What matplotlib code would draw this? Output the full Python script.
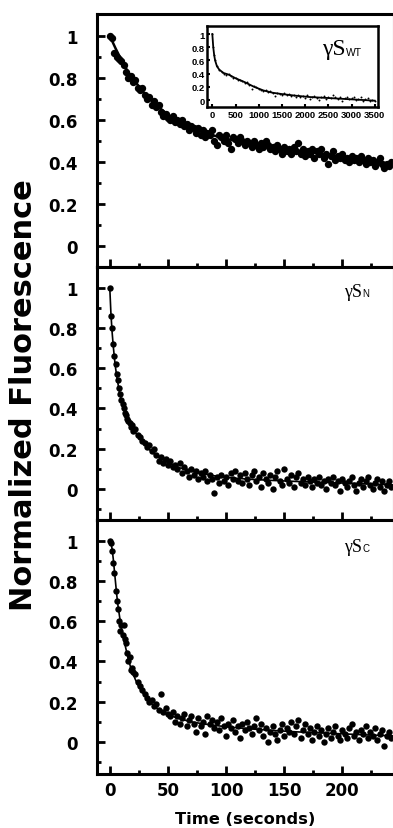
import numpy as np
import matplotlib.pyplot as plt

# sampling grids (seconds)
t_wt = np.arange(0, 243, 2)
t_nc = np.concatenate([np.arange(0, 20), np.arange(20, 243, 2)])
t_in = np.concatenate([[0, 20, 40, 60, 100, 150, 200, 250], np.arange(300, 3501, 50)])

# gammaS WT (top panel)
wt_y = [1.00, 0.99, 0.92, 0.90, 0.89, 0.88, 0.86, 0.83, 0.80, 0.81,
        0.78, 0.79, 0.75, 0.74, 0.75, 0.72, 0.70, 0.71, 0.67, 0.69,
        0.66, 0.67, 0.64, 0.62, 0.63, 0.61, 0.60, 0.62, 0.59, 0.60,
        0.58, 0.60, 0.57, 0.58, 0.55, 0.57, 0.56, 0.54, 0.56, 0.53,
        0.55, 0.52, 0.54, 0.53, 0.55, 0.50, 0.48, 0.53, 0.52, 0.50,
        0.53, 0.49, 0.46, 0.52, 0.51, 0.49, 0.52, 0.50, 0.48, 0.50,
        0.49, 0.47, 0.50, 0.48, 0.46, 0.49, 0.47, 0.50, 0.48, 0.46,
        0.47, 0.45, 0.48, 0.46, 0.44, 0.47, 0.45, 0.46, 0.44, 0.47,
        0.45, 0.49, 0.44, 0.46, 0.43, 0.45, 0.44, 0.46, 0.42, 0.45,
        0.44, 0.46, 0.42, 0.44, 0.39, 0.43, 0.45, 0.41, 0.43, 0.42,
        0.44, 0.41, 0.42, 0.40, 0.43, 0.41, 0.42, 0.40, 0.43, 0.41,
        0.39, 0.42, 0.40, 0.41, 0.38, 0.40, 0.42, 0.39, 0.37, 0.39,
        0.38, 0.40]
wt_fit_t = [0, 5, 10, 15, 20, 25, 30, 35, 40, 50, 60, 70, 80, 90, 100, 120,
            140, 160, 180, 200, 220, 243]
wt_fit_y = [1.0, 0.94, 0.885, 0.835, 0.795, 0.76, 0.725, 0.695, 0.67, 0.625,
            0.59, 0.565, 0.545, 0.525, 0.51, 0.49, 0.47, 0.455, 0.44, 0.425,
            0.41, 0.39]

# gammaS N (middle panel)
n_y = [1.00, 0.86, 0.80, 0.72, 0.66, 0.62, 0.57, 0.54, 0.50, 0.47,
       0.44, 0.42, 0.40, 0.38, 0.37, 0.35, 0.34, 0.33, 0.31, 0.32,
       0.29, 0.30, 0.27, 0.26, 0.24, 0.23, 0.21, 0.22, 0.19, 0.20,
       0.17, 0.14, 0.16, 0.13, 0.15, 0.12, 0.14, 0.11, 0.12, 0.10,
       0.13, 0.08, 0.11, 0.09, 0.06, 0.10, 0.07, 0.09, 0.05, 0.08,
       0.06, 0.09, 0.04, 0.07, 0.05, -0.02, 0.06, 0.03, 0.07, 0.04,
       0.06, 0.02, 0.08, 0.05, 0.09, 0.04, 0.07, 0.03, 0.08, 0.05,
       0.02, 0.07, 0.09, 0.04, 0.06, 0.01, 0.08, 0.05, 0.03, 0.07,
       0.00, 0.06, 0.09, 0.04, 0.02, 0.10, 0.05, 0.03, 0.07, 0.01,
       0.06, 0.08, 0.03, 0.05, 0.02, 0.06, 0.04, 0.01, 0.05, 0.03,
       0.06, 0.02, 0.04, 0.00, 0.05, 0.03, 0.06, 0.02, 0.04, -0.01,
       0.05, 0.03, 0.01, 0.04, 0.06, 0.02, -0.01, 0.03, 0.05, 0.01,
       0.04, 0.06, 0.02, 0.00, 0.03, 0.05, 0.01, 0.04, -0.01, 0.02,
       0.04, 0.01]
n_fit_t = [0, 1, 2, 3, 4, 5, 6, 8, 10, 12, 14, 16, 18, 20, 25, 30, 35, 40, 50,
           60, 70, 80, 90, 100, 120, 140, 160, 180, 200, 220, 243]
n_fit_y = [1.0, 0.87, 0.78, 0.71, 0.65, 0.60, 0.56, 0.49, 0.44, 0.40, 0.37,
           0.345, 0.32, 0.30, 0.255, 0.22, 0.19, 0.165, 0.13, 0.105, 0.088,
           0.075, 0.065, 0.057, 0.048, 0.042, 0.037, 0.033, 0.029, 0.025, 0.02]

# gammaS C (bottom panel)
c_y = [1.00, 0.99, 0.95, 0.89, 0.84, 0.75, 0.70, 0.66, 0.60, 0.55,
       0.58, 0.53, 0.58, 0.51, 0.49, 0.44, 0.40, 0.42, 0.36, 0.37,
       0.35, 0.34, 0.30, 0.28, 0.26, 0.24, 0.22, 0.20, 0.21, 0.18,
       0.19, 0.16, 0.24, 0.15, 0.17, 0.14, 0.13, 0.15, 0.10, 0.13,
       0.09, 0.12, 0.14, 0.08, 0.11, 0.13, 0.09, 0.05, 0.12, 0.08,
       0.10, 0.04, 0.13, 0.09, 0.11, 0.07, 0.10, 0.06, 0.12, 0.08,
       0.03, 0.09, 0.07, 0.11, 0.05, 0.08, 0.02, 0.09, 0.06, 0.10,
       0.07, 0.04, 0.08, 0.12, 0.06, 0.09, 0.03, 0.07, 0.00, 0.05,
       0.08, 0.04, 0.01, 0.06, 0.09, 0.03, 0.07, 0.05, 0.10, 0.04,
       0.08, 0.11, 0.02, 0.06, 0.09, 0.04, 0.07, 0.01, 0.05, 0.08,
       0.03, 0.06, 0.00, 0.04, 0.07, 0.02, 0.05, 0.08, 0.03, 0.01,
       0.06, 0.04, 0.02, 0.07, 0.09, 0.03, 0.05, 0.01, 0.06, 0.04,
       0.08, 0.02, 0.05, 0.03, 0.07, 0.01, 0.04, 0.06, -0.02, 0.03,
       0.05, 0.02]
c_fit_t = [0, 1, 2, 3, 4, 5, 6, 7, 8, 9, 10, 12, 14, 16, 18, 20, 22, 25, 30,
           35, 40, 45, 50, 60, 70, 80, 100, 120, 140, 160, 180, 200, 220, 243]
c_fit_y = [1.0, 0.99, 0.96, 0.91, 0.85, 0.79, 0.73, 0.68, 0.64, 0.60, 0.565,
           0.51, 0.46, 0.41, 0.37, 0.34, 0.31, 0.275, 0.23, 0.195, 0.17, 0.15,
           0.135, 0.115, 0.10, 0.09, 0.075, 0.065, 0.057, 0.05, 0.045, 0.04,
           0.035, 0.03]

# inset, gammaS WT over the long run
in_y = [1.00, 0.80, 0.68, 0.60, 0.52, 0.46, 0.42, 0.40,
        0.38, 0.39, 0.36, 0.34, 0.33, 0.31, 0.30, 0.29, 0.26, 0.28,
        0.23, 0.16, 0.21, 0.19, 0.17, 0.15, 0.13, 0.15, 0.12, 0.13,
        0.10, 0.06, 0.11, 0.09, 0.08, 0.10, 0.07, 0.09, 0.06, 0.08,
        0.05, 0.07, 0.04, 0.06, 0.03, 0.07, 0.02, 0.05, 0.06, 0.03,
        0.00, 0.04, 0.06, 0.02, 0.05, 0.03, 0.07, 0.04, 0.02, 0.05,
        -0.01, 0.03, 0.04, 0.01, 0.03, 0.05, 0.00, 0.02, 0.04, -0.02,
        0.01, 0.03, -0.01, 0.00, -0.02]
in_fit_t = [0, 10, 20, 40, 60, 100, 150, 240, 350, 500, 700, 900, 1100, 1300,
            1500, 1800, 2100, 2500, 3000, 3500]
in_fit_y = [1.0, 0.9, 0.8, 0.68, 0.6, 0.51, 0.46, 0.41, 0.385, 0.33, 0.27,
            0.20, 0.145, 0.11, 0.09, 0.065, 0.045, 0.03, 0.01, -0.01]

ytick_vals = [0, 0.2, 0.4, 0.6, 0.8, 1]
ytick_lab = ['0', '0.2', '0.4', '0.6', '0.8', '1']
xtick_vals = [0, 50, 100, 150, 200]


def style(ax, ylow):
    ax.set_xlim(-11, 243.5)
    ax.set_ylim(ylow, 1.104)
    ax.set_yticks(ytick_vals)
    ax.set_yticklabels(ytick_lab)
    ax.set_yticks(np.arange(-0.1, 1.05, 0.2), minor=True)
    ax.set_xticks(xtick_vals)
    ax.set_xticks([25, 75, 125, 175, 225], minor=True)
    ax.tick_params(which='both', direction='in', width=2, colors='k',
                   labelsize=12, top=False, right=False)
    ax.tick_params(which='major', length=6)
    ax.tick_params(which='minor', length=3)
    ax.tick_params(axis='y', pad=14)
    ax.tick_params(axis='x', pad=5)
    for s in ['left', 'top', 'bottom']:
        ax.spines[s].set_linewidth(2.2)
    ax.spines['right'].set_linewidth(0.8)
    ax.spines['right'].set_color('#999999')
    for lab in ax.get_xticklabels() + ax.get_yticklabels():
        lab.set_fontweight('bold')


def tag(ax, sub, x, y, size=13, subsize=7):
    t = ax.text(x, y, 'γS', transform=ax.transAxes, fontsize=size,
                family='Liberation Serif', ha='left', va='center')
    ax.annotate(sub, xy=(1.0, 0.12), xycoords=t, fontsize=subsize,
                family='Liberation Sans', ha='left', va='bottom')


fig = plt.figure(figsize=(3.93, 8.29), dpi=100)
ax1 = fig.add_axes([0.2468, 0.6767, 0.7532, 0.3052])
ax2 = fig.add_axes([0.2468, 0.3715, 0.7532, 0.3052])
ax3 = fig.add_axes([0.2468, 0.0651, 0.7532, 0.3064])

ax1.plot(t_wt, wt_y, 'o', color='k', ms=5.3, mew=0)
ax1.plot(wt_fit_t, wt_fit_y, '-', color='k', lw=1.8)
style(ax1, -0.095)
ax1.tick_params(axis='x', labelbottom=False)

ax2.plot(t_nc, n_y, 'o', color='k', ms=4.6, mew=0)
ax2.plot(n_fit_t, n_fit_y, '-', color='k', lw=1.2)
style(ax2, -0.155)
ax2.tick_params(axis='x', labelbottom=False)
tag(ax2, 'N', 0.835, 0.905)

ax3.plot(t_nc, c_y, 'o', color='k', ms=4.6, mew=0)
ax3.plot(c_fit_t, c_fit_y, '-', color='k', lw=1.2)
style(ax3, -0.16)
ax3.set_xlabel('Time (seconds)', fontsize=11.7, fontweight='bold', labelpad=9)
tag(ax3, 'C', 0.835, 0.895)

fig.text(0.06, 0.523, 'Normalized Fluorescence', rotation=90, fontsize=22,
         fontweight='bold', ha='center', va='center')

# inset
axi = fig.add_axes([0.5275, 0.8694, 0.4351, 0.0984])
axi.plot(t_in, in_y, 'o', color='k', ms=1.4, mew=0)
axi.plot(in_fit_t, in_fit_y, '-', color='k', lw=1.3)
axi.set_xlim(-108, 3577)
axi.set_ylim(-0.11, 1.126)
axi.set_xticks(np.arange(0, 3501, 500))
axi.set_yticks(ytick_vals)
axi.set_yticklabels(ytick_lab)
axi.tick_params(direction='in', width=1.5, length=2.5, labelsize=6.8, pad=2)
for s in axi.spines.values():
    s.set_linewidth(1.8)
for lab in axi.get_xticklabels() + axi.get_yticklabels():
    lab.set_fontweight('bold')
    lab.set_family('Liberation Sans')
tag(axi, 'WT', 0.67, 0.72, size=17, subsize=7.5)

fig.savefig('out.png', dpi=100)
